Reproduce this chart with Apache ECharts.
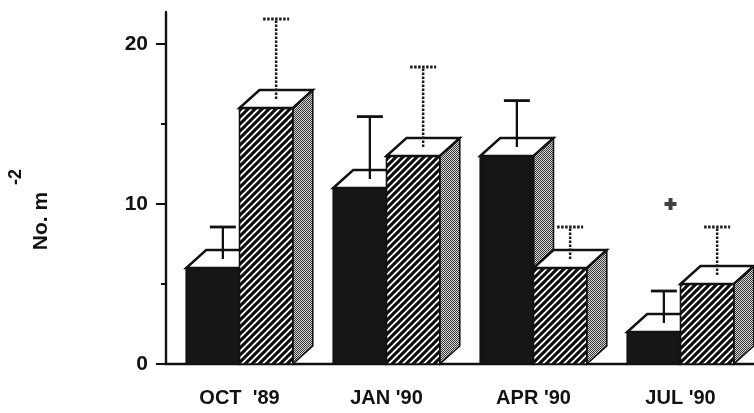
<!DOCTYPE html>
<html>
<head>
<meta charset="utf-8">
<script src="https://cdn.jsdelivr.net/npm/echarts@6/dist/echarts.min.js"></script>
<style>
  html, body { margin: 0; padding: 0; background: #fff; }
  #chart { width: 754px; height: 413px; }
</style>
</head>
<body>
<div id="chart"></div>
<script>
// Sampling dates
const categories = ["OCT  '89", "JAN '90", "APR '90", "JUL '90"];
// Solid (black) bars: mean density and upper error
const blackMean = [6, 11, 13, 2];
const blackErr = [2.0, 3.9, 2.9, 2.0];
// Hatched bars: mean density and upper error
const hatchMean = [16, 13, 6, 5];
const hatchErr = [5.0, 5.0, 2.0, 3.0];
// Significance marker
const marker = [null, null, null, 10];
// Value axis ticks
const majorTicks = [0, 10, 20];
const minorTicks = [5, 15];

const FONT = '"Liberation Sans", Arial, Helvetica, sans-serif';
const INK = '#111';

// Fill patterns drawn on small canvases
function makeHatch() {
  const c = document.createElement('canvas');
  c.width = 7; c.height = 7;
  const g = c.getContext('2d');
  g.fillStyle = '#fff'; g.fillRect(0, 0, 7, 7);
  g.strokeStyle = '#0d0d0d'; g.lineWidth = 3.1;
  for (let k = -1; k <= 1; k++) {
    g.beginPath(); g.moveTo(k * 7 - 1, 8); g.lineTo(k * 7 + 8, -1); g.stroke();
  }
  return c;
}
function makeStipple() {
  const c = document.createElement('canvas');
  c.width = 2; c.height = 2;
  const g = c.getContext('2d');
  g.fillStyle = '#d2d2d2'; g.fillRect(0, 0, 2, 2);
  g.fillStyle = '#3c3c3c'; g.fillRect(0, 0, 1, 1); g.fillRect(1, 1, 1, 1);
  return c;
}
const hatchPattern = { image: makeHatch(), repeat: 'repeat' };
const stipplePattern = { image: makeStipple(), repeat: 'repeat' };

const DX = 20, DY = 18;      // depth of the 3-D boxes
const BAR_FRAC = 0.3624;     // front face width as a share of the band
const CAP = 13;              // half width of error caps

function boxRenderer(side, frontFill, dashed) {
  return function (params, api) {
    const i = api.value(0), v = api.value(1), e = api.value(2);
    const band = api.size([1, 0])[0];
    const cx = api.coord([i, 0])[0];
    const base = api.coord([i, 0])[1];
    const top = api.coord([i, v])[1];
    const errTop = api.coord([i, v + e])[1];
    const w = band * BAR_FRAC;
    const x0 = side === 0 ? cx - w : cx;
    const x1 = x0 + w;
    const ex = (x0 + x1) / 2 + DX / 2;
    const errStyle = dashed
      ? { stroke: '#1a1a1a', lineWidth: 2.5, lineDash: [2.5, 1.5] }
      : { stroke: INK, lineWidth: 2.3 };
    return {
      type: 'group',
      children: [
        { type: 'polygon',
          shape: { points: [[x1, top], [x1 + DX, top - DY], [x1 + DX, base - DY], [x1, base]] },
          style: { fill: stipplePattern, stroke: INK, lineWidth: 1.6 } },
        { type: 'rect',
          shape: { x: x0, y: top, width: w, height: base - top },
          style: { fill: frontFill, stroke: INK, lineWidth: 1.6 } },
        { type: 'polygon',
          shape: { points: [[x0, top], [x0 + DX, top - DY], [x1 + DX, top - DY], [x1, top]] },
          style: { fill: '#fff', stroke: INK, lineWidth: 2.4 } },
        { type: 'line',
          shape: { x1: ex, y1: top - DY / 2, x2: ex, y2: errTop - DY / 2 },
          style: errStyle },
        { type: 'line',
          shape: { x1: ex - CAP, y1: errTop - DY / 2, x2: ex + CAP, y2: errTop - DY / 2 },
          style: Object.assign({}, errStyle, { lineWidth: 2.8 }) }
      ]
    };
  };
}

const blackData = blackMean.map((v, i) => [i, v, blackErr[i]]);
const hatchData = hatchMean.map((v, i) => [i, v, hatchErr[i]]);
const markerData = marker.map((v, i) => (v == null ? null : [i, v])).filter(d => d);

const chart = echarts.init(document.getElementById('chart'), null, { renderer: 'canvas' });
chart.setOption({
  animation: false,
  backgroundColor: '#fff',
  grid: { left: 166, top: 12, width: 596, height: 352 },
  xAxis: {
    type: 'category',
    data: categories,
    axisLine: { lineStyle: { color: INK, width: 2.4 } },
    axisTick: { length: 6, lineStyle: { color: INK, width: 2 } },
    axisLabel: { color: INK, fontFamily: FONT, fontWeight: 'bold', fontSize: 20, margin: 24 },
    splitLine: { show: false }
  },
  yAxis: [
    {
      type: 'value', min: 0, max: 22, interval: 10,
      axisLine: { show: true, lineStyle: { color: INK, width: 2.4 } },
      axisTick: { show: true, length: 10, customValues: majorTicks, lineStyle: { color: INK, width: 2 } },
      axisLabel: { customValues: majorTicks, color: INK, fontFamily: FONT, fontWeight: 'bold', fontSize: 21, margin: 18 },
      splitLine: { show: false }
    },
    {
      type: 'value', min: 0, max: 22, interval: 10, position: 'left',
      axisLine: { show: false },
      axisTick: { show: true, length: 5, customValues: minorTicks, lineStyle: { color: INK, width: 2 } },
      axisLabel: { show: false },
      splitLine: { show: false }
    }
  ],
  graphic: [
    { type: 'text', x: 41, y: 221, rotation: Math.PI / 2,
      style: { text: 'No. m', font: 'bold 21px ' + FONT, fill: INK,
               align: 'center', verticalAlign: 'middle', textAlign: 'center', textVerticalAlign: 'middle' } },
    { type: 'text', x: 16, y: 177, rotation: Math.PI / 2,
      style: { text: '-2', font: 'bold 18px ' + FONT, fill: INK,
               align: 'center', verticalAlign: 'middle', textAlign: 'center', textVerticalAlign: 'middle' } }
  ],
  series: [
    { type: 'custom', name: 'solid', renderItem: boxRenderer(0, '#161616', false), data: blackData, z: 2 },
    { type: 'custom', name: 'hatched', renderItem: boxRenderer(1, hatchPattern, true), data: hatchData, z: 3 },
    { type: 'scatter', name: 'marker', data: markerData, z: 4,
      symbol: 'path://M4,0H8V4H12V8H8V12H4V8H0V4H4Z', symbolSize: 12, symbolOffset: [-10, 0],
      itemStyle: { color: INK } }
  ]
});
</script>
</body>
</html>
